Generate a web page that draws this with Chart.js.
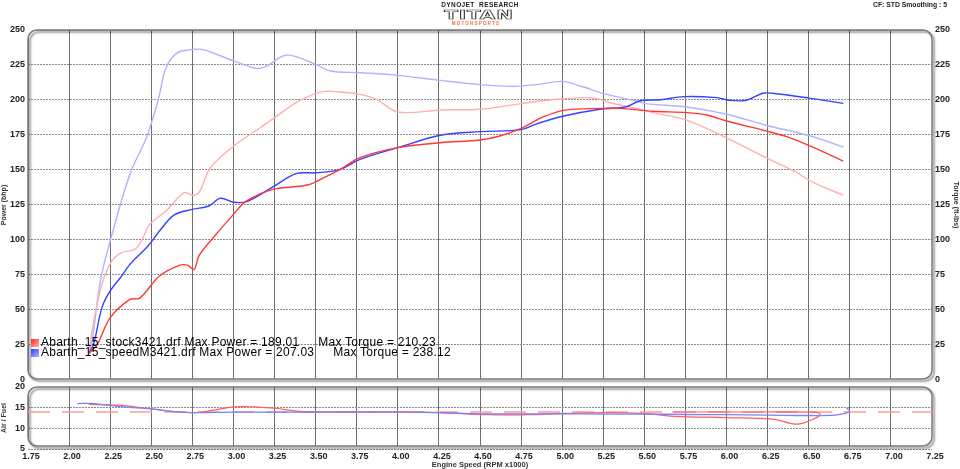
<!DOCTYPE html>
<html>
<head>
<meta charset="utf-8">
<title>Dyno run</title>
<script src="https://cdn.jsdelivr.net/npm/chart.js@4.4.1/dist/chart.umd.min.js"></script>
<style>
  html, body { margin: 0; padding: 0; background: #fff; }
  #wrap { position: relative; width: 960px; height: 469px; font-family: "Liberation Sans", Arial, sans-serif; overflow: hidden; }
  #dyno { position: absolute; left: 0; top: 0; }
  .hdr { position: absolute; white-space: nowrap; font-weight: bold; color: #222; }
  #brand1 { left: 480px; top: 1px; font-size: 6.5px; letter-spacing: 0.4px; transform: translateX(-50%); }
  #brand2 { left: 479px; top: 7px; font-size: 12.5px; letter-spacing: 0.5px; color: #fff;
            -webkit-text-stroke: 0.7px #333; transform: translateX(-50%) scaleX(1.6); font-family: "DejaVu Sans", sans-serif; }
  #brand3 { left: 476px; top: 21px; font-size: 4.5px; letter-spacing: 1.2px; color: #f07030; transform: translateX(-50%); }
  #cf { right: 13px; top: 1px; font-size: 6.8px; }
  #legend { position: absolute; left: 31px; top: 337px; font-size: 12px; letter-spacing: 0.25px; color: #000; }
  #legend .row { height: 10.4px; line-height: 10.4px; white-space: nowrap; }
  #legend .sq { display: inline-block; width: 8px; height: 8px; margin-right: 2px; vertical-align: -0.5px; }
  #legend .tq { margin-left: 19px; }
</style>
</head>
<body>
<div id="wrap">
  <canvas id="dyno" width="960" height="469"></canvas>
  <div class="hdr" id="brand1">DYNOJET&nbsp;&nbsp;RESEARCH</div>
  <div class="hdr" id="brand2">TITAN</div>
  <div class="hdr" id="brand3">MOTORSPORTS</div>
  <div class="hdr" id="cf">CF: STD Smoothing : 5</div>
  <div id="legend"></div>
</div>
<script>
// runs shown in the legend
const runNames = ['Abarth_15_stock3421.drf', 'Abarth_15_speedM3421.drf'];
const runMaxPower = ['189.01', '207.03'];
const runMaxTorque = ['210.23', '238.12'];
const runColors = ['#ff2a2a', '#2a3cff'];

// axis ticks
const rpmTicks = [1.75, 2.00, 2.25, 2.50, 2.75, 3.00, 3.25, 3.50, 3.75, 4.00, 4.25, 4.50,
                  4.75, 5.00, 5.25, 5.50, 5.75, 6.00, 6.25, 6.50, 6.75, 7.00, 7.25];
const powerTicks = [0, 25, 50, 75, 100, 125, 150, 175, 200, 225, 250];
const afTicks = [5, 10, 15, 20];

// stock run - power (bhp)
const stockPowerRpm = [2.12, 2.17, 2.25, 2.37, 2.43, 2.55, 2.67, 2.72, 2.76, 2.79, 2.86, 3.00, 3.08, 3.24,
                       3.45, 3.55, 3.65, 3.77, 4.00, 4.26, 4.50, 4.62, 4.75, 4.885, 5.01, 5.23, 5.35, 5.55,
                       5.76, 5.88, 6.00, 6.24, 6.37, 6.51, 6.71];
const stockPower = [19, 25, 44.5, 57.6, 58.5, 74.3, 81.9, 82, 79, 88.6, 99.3, 118.3, 127.9, 136.2,
                    139.3, 144.5, 150.5, 158.8, 166, 169.5, 171.4, 174.3, 179.8, 187.9, 192.6, 194, 194, 192,
                    191, 189.3, 185, 177.9, 173.6, 167, 156.4];

// stock run - torque (ft-lbs)
const stockTorqueRpm = [2.12, 2.15, 2.20, 2.26, 2.32, 2.40, 2.44, 2.49, 2.59, 2.70, 2.75, 2.79, 2.86, 3.00,
                        3.16, 3.25, 3.40, 3.54, 3.65, 3.77, 3.87, 4.00, 4.26, 4.50, 4.75, 4.91, 5.17, 5.33,
                        5.47, 5.55, 5.76, 6.00, 6.24, 6.41, 6.53, 6.71];
const stockTorque = [20, 42, 68.6, 85, 91, 93.3, 99.3, 111, 120.7, 133.8, 132, 133.8, 151.6, 167,
                     180, 187.4, 199.3, 206, 205.7, 204, 200.5, 191.4, 192.9, 193.4, 197.4, 199.8, 201.6, 197,
                     193.4, 191, 185.5, 173, 158.8, 149.3, 141, 132];

// speedM run - power (bhp)
const speedPowerRpm = [2.12, 2.15, 2.20, 2.25, 2.32, 2.37, 2.48, 2.55, 2.64, 2.75, 2.85, 2.92, 3.00, 3.08,
                       3.24, 3.38, 3.50, 3.65, 3.77, 4.00, 4.26, 4.50, 4.75, 4.845, 5.01, 5.23, 5.39, 5.47,
                       5.60, 5.74, 5.94, 6.02, 6.12, 6.22, 6.28, 6.51, 6.71];
const speedPower = [19, 26, 51.7, 63.6, 74.3, 82.6, 95.7, 106.4, 117.9, 121.9, 124.3, 129.8, 127, 127.4,
                    137.9, 147.4, 148, 150.5, 157.6, 166, 174.8, 177.4, 178.8, 183, 188.6, 193.4, 195.2, 199.3,
                    200.2, 202.4, 201.7, 199.8, 199.8, 204.8, 204.8, 201.2, 197.6];

// speedM run - torque (ft-lbs)
const speedTorqueRpm = [2.12, 2.14, 2.19, 2.25, 2.37, 2.47, 2.54, 2.59, 2.66, 2.75, 2.815, 3.00, 3.14, 3.20,
                        3.32, 3.49, 3.59, 3.77, 4.00, 4.26, 4.50, 4.70, 4.845, 5.00, 5.11, 5.27, 5.45, 5.51,
                        5.76, 6.00, 6.24, 6.51, 6.71];
const speedTorque = [20, 28, 70.7, 99.3, 147, 173, 199, 223, 233.8, 236, 236, 228, 222.6, 224,
                     232, 226, 220.7, 219.5, 217.6, 214, 211, 209.8, 211, 213.3, 210, 204, 199.3, 197.4,
                     195, 189.8, 182, 174.3, 166.4];

// air / fuel traces (rpm goes back at the end of the run)
const stockAfRpm = [2.12, 2.30, 2.50, 2.75, 2.88, 3.00, 3.12, 3.27, 3.40, 3.75, 4.00, 4.25, 4.55, 4.80,
                    5.00, 5.25, 5.50, 5.68, 6.00, 6.28, 6.43, 6.53, 6.57, 6.52, 6.20, 5.67];
const stockAf = [15.8, 15.6, 14.7, 13.8, 14.4, 15.2, 15.2, 14.8, 14.1, 14.0, 14.0, 13.8, 13.3, 13.3,
                 13.6, 13.8, 13.6, 12.9, 12.6, 12.25, 11.0, 12.25, 13.45, 13.9, 13.95, 13.95];
const speedAfRpm = [2.05, 2.15, 2.33, 2.50, 2.62, 2.75, 3.00, 3.50, 4.00, 4.25, 4.50, 4.75, 5.00, 5.25,
                    5.50, 5.75, 6.00, 6.25, 6.50, 6.66, 6.72, 6.75, 6.73];
const speedAf = [16.0, 16.0, 15.2, 14.7, 14.1, 13.8, 13.9, 13.9, 13.9, 13.8, 13.5, 13.5, 13.5, 13.45,
                 13.45, 13.35, 13.3, 13.2, 13.1, 13.2, 13.6, 14.2, 14.9];
const afRefRpm = [1.75, 7.25];
const afRef = [13.95, 13.95];

function pts(xs, ys) {
  return xs.map((x, i) => ({ x: x, y: ys[i] }));
}

// legend rows
const legendEl = document.getElementById('legend');
runNames.forEach((name, i) => {
  const row = document.createElement('div');
  row.className = 'row';
  row.innerHTML = '<span class="sq" style="background:linear-gradient(135deg,' + runColors[i] + ',#fff 160%)"></span>' +
    name + ' Max Power = ' + runMaxPower[i] +
    '<span class="tq">Max Torque = ' + runMaxTorque[i] + '</span>';
  legendEl.appendChild(row);
});

function roundPath(ctx, x, y, w, h, r) {
  ctx.moveTo(x + r, y);
  ctx.arcTo(x + w, y, x + w, y + h, r);
  ctx.arcTo(x + w, y + h, x, y + h, r);
  ctx.arcTo(x, y + h, x, y, r);
  ctx.arcTo(x, y, x + w, y, r);
  ctx.closePath();
}

// two framed panels sharing one x axis
const panelFrames = {
  id: 'panelFrames',
  afterLayout(chart) {
    const s = chart.scales;
    s.y.bottom = s.y.getPixelForValue(powerTicks[0]);
    s.y1.bottom = s.y1.getPixelForValue(powerTicks[0]);
    s.af.top = s.af.getPixelForValue(afTicks[afTicks.length - 1]);
    s.af.left = 0;
  },
  beforeDatasetsDraw(chart) {
    const { ctx, chartArea: ca, scales: s } = chart;
    const L = ca.left, R = ca.right;
    const t1 = s.y.getPixelForValue(powerTicks[powerTicks.length - 1]);
    const b1 = s.y.getPixelForValue(powerTicks[0]) - 1;
    const t2 = s.af.getPixelForValue(afTicks[afTicks.length - 1]);
    const b2 = s.af.getPixelForValue(afTicks[0]) - 3;
    ctx.save();
    ctx.beginPath();
    ctx.rect(L - 1, ca.top - 1, R - L + 2, ca.bottom - ca.top + 1);
    roundPath(ctx, L, t1, R - L, b1 - t1, 9);
    roundPath(ctx, L, t2, R - L, b2 - t2, 9);
    ctx.fillStyle = '#fff';
    ctx.fill('evenodd');
    ctx.shadowColor = 'rgba(0,0,0,0.5)';
    ctx.shadowBlur = 2;
    ctx.shadowOffsetX = 2;
    ctx.shadowOffsetY = 2;
    ctx.strokeStyle = '#7a7a7a';
    ctx.lineWidth = 1.5;
    ctx.beginPath();
    roundPath(ctx, L, t1, R - L, b1 - t1, 9);
    ctx.stroke();
    ctx.beginPath();
    roundPath(ctx, L, t2, R - L, b2 - t2, 9);
    ctx.stroke();
    ctx.restore();
  }
};

const tickFont = { family: '"Liberation Sans", Arial, sans-serif', size: 9, weight: 'bold' };
const titleFont = { family: '"Liberation Sans", Arial, sans-serif', size: 7, weight: 'bold' };

const ctx = document.getElementById('dyno').getContext('2d');
const dynoChart = new Chart(ctx, {
  type: 'line',
  data: {
    datasets: [
      { label: 'Power stock', data: pts(stockPowerRpm, stockPower), yAxisID: 'y', borderColor: 'rgb(255,55,55)' },
      { label: 'Power speedM', data: pts(speedPowerRpm, speedPower), yAxisID: 'y', borderColor: 'rgb(55,65,255)' },
      { label: 'Torque stock', data: pts(stockTorqueRpm, stockTorque), yAxisID: 'y1', borderColor: 'rgb(255,175,175)' },
      { label: 'Torque speedM', data: pts(speedTorqueRpm, speedTorque), yAxisID: 'y1', borderColor: 'rgb(175,180,255)' },
      { label: 'AF speedM', data: pts(speedAfRpm, speedAf), yAxisID: 'af', borderColor: 'rgb(120,130,255)', borderWidth: 1.3 },
      { label: 'AF stock', data: pts(stockAfRpm, stockAf), yAxisID: 'af', borderColor: 'rgb(255,95,95)', borderWidth: 1.2 },
      { label: 'AF ref', data: pts(afRefRpm, afRef), yAxisID: 'af', borderColor: 'rgb(255,155,155)', borderWidth: 1.5,
        borderDash: [22, 12], tension: 0 }
    ]
  },
  options: {
    responsive: false,
    animation: false,
    devicePixelRatio: 1,
    layout: { padding: { top: 30, left: 0, right: 0, bottom: 0 } },
    elements: {
      point: { radius: 0 },
      line: { borderWidth: 1.4, tension: 0.35 }
    },
    plugins: {
      legend: { display: false },
      tooltip: { enabled: false }
    },
    scales: {
      x: {
        type: 'linear',
        min: rpmTicks[0],
        max: rpmTicks[rpmTicks.length - 1],
        afterBuildTicks: (s) => { s.ticks = rpmTicks.map(v => ({ value: v })); },
        afterFit: (s) => { s.height = 20; },
        ticks: { callback: (v) => Number(v).toFixed(2), font: tickFont, color: '#222', padding: 2,
                 labelOffset: 3, maxRotation: 0, autoSkip: false },
        grid: { color: '#6e6e6e', lineWidth: 1, drawTicks: false },
        border: { display: false },
        title: { display: true, text: 'Engine Speed (RPM x1000)', font: { ...titleFont, size: 7.5 }, color: '#333', padding: 0 }
      },
      y: {
        position: 'left',
        weight: 1,
        min: -49.29,
        max: 250,
        afterBuildTicks: (s) => { s.ticks = powerTicks.map(v => ({ value: v })); },
        afterFit: (s) => { s.width = 28; },
        ticks: { font: tickFont, color: '#222', padding: 3 },
        grid: { color: '#8a8a8a', drawTicks: false },
        border: { display: false, dash: [2, 1] },
        title: { display: true, text: 'Power (bhp)', font: titleFont, color: '#333', padding: 0 }
      },
      af: {
        position: 'left',
        weight: 0,
        min: 5,
        max: 106.37,
        afterBuildTicks: (s) => { s.ticks = afTicks.map(v => ({ value: v })); },
        afterFit: (s) => { s.width = 0; },
        ticks: { font: tickFont, color: '#222', padding: 3 },
        grid: { color: '#8a8a8a', drawTicks: false },
        border: { display: false, dash: [2, 1] },
        title: { display: true, text: 'Air / Fuel', font: titleFont, color: '#333', padding: 0 }
      },
      y1: {
        position: 'right',
        min: -49.29,
        max: 250,
        afterBuildTicks: (s) => { s.ticks = powerTicks.map(v => ({ value: v })); },
        afterFit: (s) => { s.width = 28; },
        ticks: { font: tickFont, color: '#222', padding: 3 },
        grid: { display: false, drawTicks: false },
        border: { display: false },
        title: { display: true, text: 'Torque (ft-lbs)', font: titleFont, color: '#333', padding: 0 }
      }
    }
  },
  plugins: [panelFrames]
});
</script>
</body>
</html>
